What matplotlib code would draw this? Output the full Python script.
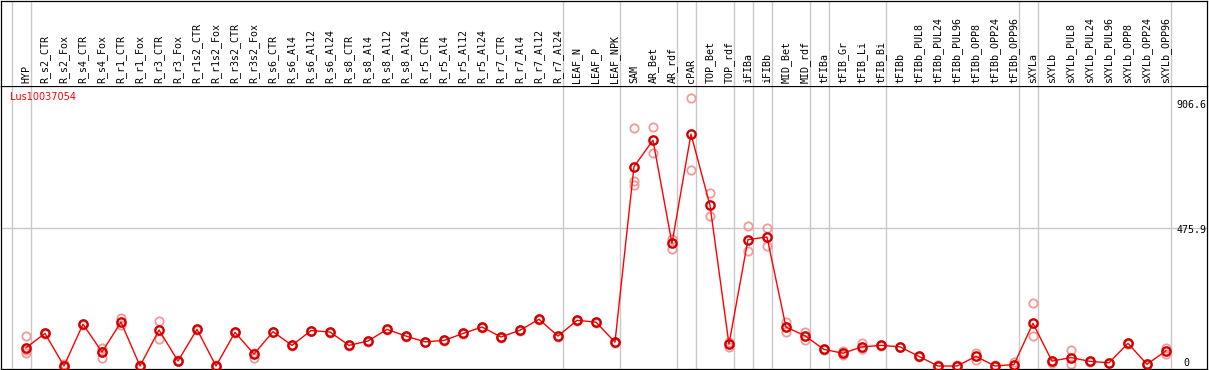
import numpy as np
import matplotlib.pyplot as plt
import matplotlib.transforms as mtransforms

# sample names (x axis, drawn as rotated header labels)
samples = [
    "HYP", "R_s2_CTR", "R_s2_Fox", "R_s4_CTR", "R_s4_Fox", "R_r1_CTR", "R_r1_Fox",
    "R_r3_CTR", "R_r3_Fox", "R_r1s2_CTR", "R_r1s2_Fox", "R_r3s2_CTR", "R_r3s2_Fox",
    "R_s6_CTR", "R_s6_Al4", "R_s6_Al12", "R_s6_Al24", "R_s8_CTR", "R_s8_Al4",
    "R_s8_Al12", "R_s8_Al24", "R_r5_CTR", "R_r5_Al4", "R_r5_Al12", "R_r5_Al24",
    "R_r7_CTR", "R_r7_Al4", "R_r7_Al12", "R_r7_Al24", "LEAF_N", "LEAF_P", "LEAF_NPK",
    "SAM", "AR_Bet", "AR_rdf", "cPAR", "TOP_Bet", "TOP_rdf", "iFIBa", "iFIBb",
    "MID_Bet", "MID_rdf", "tFIBa", "tFIB_Gr", "tFIB_Li", "tFIB_Bi", "tFIBb",
    "tFIBb_PUL8", "tFIBb_PUL24", "tFIBb_PUL96", "tFIBb_OPP8", "tFIBb_OPP24",
    "tFIBb_OPP96", "sXYLa", "sXYLb", "sXYLb_PUL8", "sXYLb_PUL24", "sXYLb_PUL96",
    "sXYLb_OPP8", "sXYLb_OPP24", "sXYLb_OPP96",
]

# mean expression per sample
means = [
    63, 112, 0, 144, 48, 151, 0, 124, 17, 126, 0, 116, 41,
    118, 71, 122, 117, 71, 86, 126, 103, 83, 88, 112, 134,
    100, 123, 161, 103, 157, 151, 82,
    686, 777, 422, 798, 553, 75, 435, 444,
    134, 104, 57, 44, 66, 71, 66,
    33, 0, 0, 33, 0, 5,
    147, 17, 29, 16, 11, 78, 6, 52,
]

# individual replicates per sample
reps = [
    [103, 55, 46], [112, 110], [0, 8], [144, 140], [63, 29, 48], [164, 140], [0, 3],
    [154, 92], [17, 21], [126, 124], [0, 3], [116, 112], [29, 46],
    [118, 116], [71, 69], [122, 120], [117, 115], [71, 70], [86, 84], [126, 124], [103, 101],
    [83, 81], [88, 86], [112, 110], [134, 132], [100, 98], [123, 121], [161, 159], [103, 101],
    [157, 155], [151, 149], [82, 80],
    [819, 638, 622], [822, 732], [437, 404], [922, 673], [595, 515], [66, 82], [481, 395], [475, 414],
    [150, 118], [116, 89], [57, 55], [52, 37], [78, 58], [71, 69], [66, 64],
    [33, 31], [0, 2], [0, 2], [46, 21], [0, 2], [13, 3],
    [216, 103], [17, 9], [54, 6], [16, 14], [11, 9], [78, 76], [6, 4], [62, 41],
]

# sample groups are separated by grey lines after these indices
group_ends = [0, 28, 31, 34, 35, 37, 38, 39, 41, 42, 45, 52, 53, 60]
ref_value = 475.9
scale_max = 906.6
gene = "Lus10037054"

W, H = 1209, 370
fig = plt.figure(figsize=(W / 100, H / 100), dpi=100)
ax = fig.add_axes([1 / W, 1 - 369 / H, 1206 / W, 283 / H])
hx = fig.add_axes([1 / W, 1 - 86 / H, 1206 / W, 85.5 / H])

x = np.arange(len(samples))
xlim = (-1.316, 62.16)
grey = "#c8c8c8"
mono = "DejaVu Sans Mono"

for a in (ax, hx):
    a.set_xlim(*xlim)
    a.set_xticks([])
    a.set_yticks([])
    for s in a.spines.values():
        s.set_color("black")
        s.set_linewidth(0.9)
    a.axvline(-0.75, color=grey, lw=1, zorder=0)
    for g in group_ends:
        a.axvline(g + 0.25, color=grey, lw=1, zorder=0)
hx.spines["bottom"].set_visible(False)
hx.set_ylim(0, 1)

# header labels
for i, name in enumerate(samples):
    hx.text(i, 0.035, name, rotation=90, ha="center", va="bottom",
            fontfamily=mono, fontsize=7.2)

ax.set_ylim(-10.3, 963.5)
ax.axhline(ref_value, color=grey, lw=1, zorder=0)

# replicates
for i, r in enumerate(reps):
    ax.plot([i] * len(r), r, "o", mfc="none", mec="#f29a9a", ms=6, mew=1.3, zorder=2)

# means
ax.plot(x, means, color="red", lw=1, zorder=3)
ax.plot(x, means, "o", mfc="none", mec="#d00000", ms=6, mew=1.7, zorder=4)

ax.text(0.0075, 0.961, gene, transform=ax.transAxes, color="red",
        fontsize=7, ha="left", va="center")

trans = mtransforms.blended_transform_factory(ax.transAxes, ax.transData)
ax.text(0.9995, scale_max - 9, f"{scale_max}", transform=trans, ha="right",
        va="center", fontfamily=mono, fontsize=7.2)
ax.text(0.9995, ref_value - 8, f"{ref_value}", transform=trans, ha="right",
        va="center", fontfamily=mono, fontsize=7.2)
ax.text(0.985, 11, "0", transform=trans, ha="right", va="center",
        fontfamily=mono, fontsize=7.2)

fig.savefig("out.png", dpi=100)
